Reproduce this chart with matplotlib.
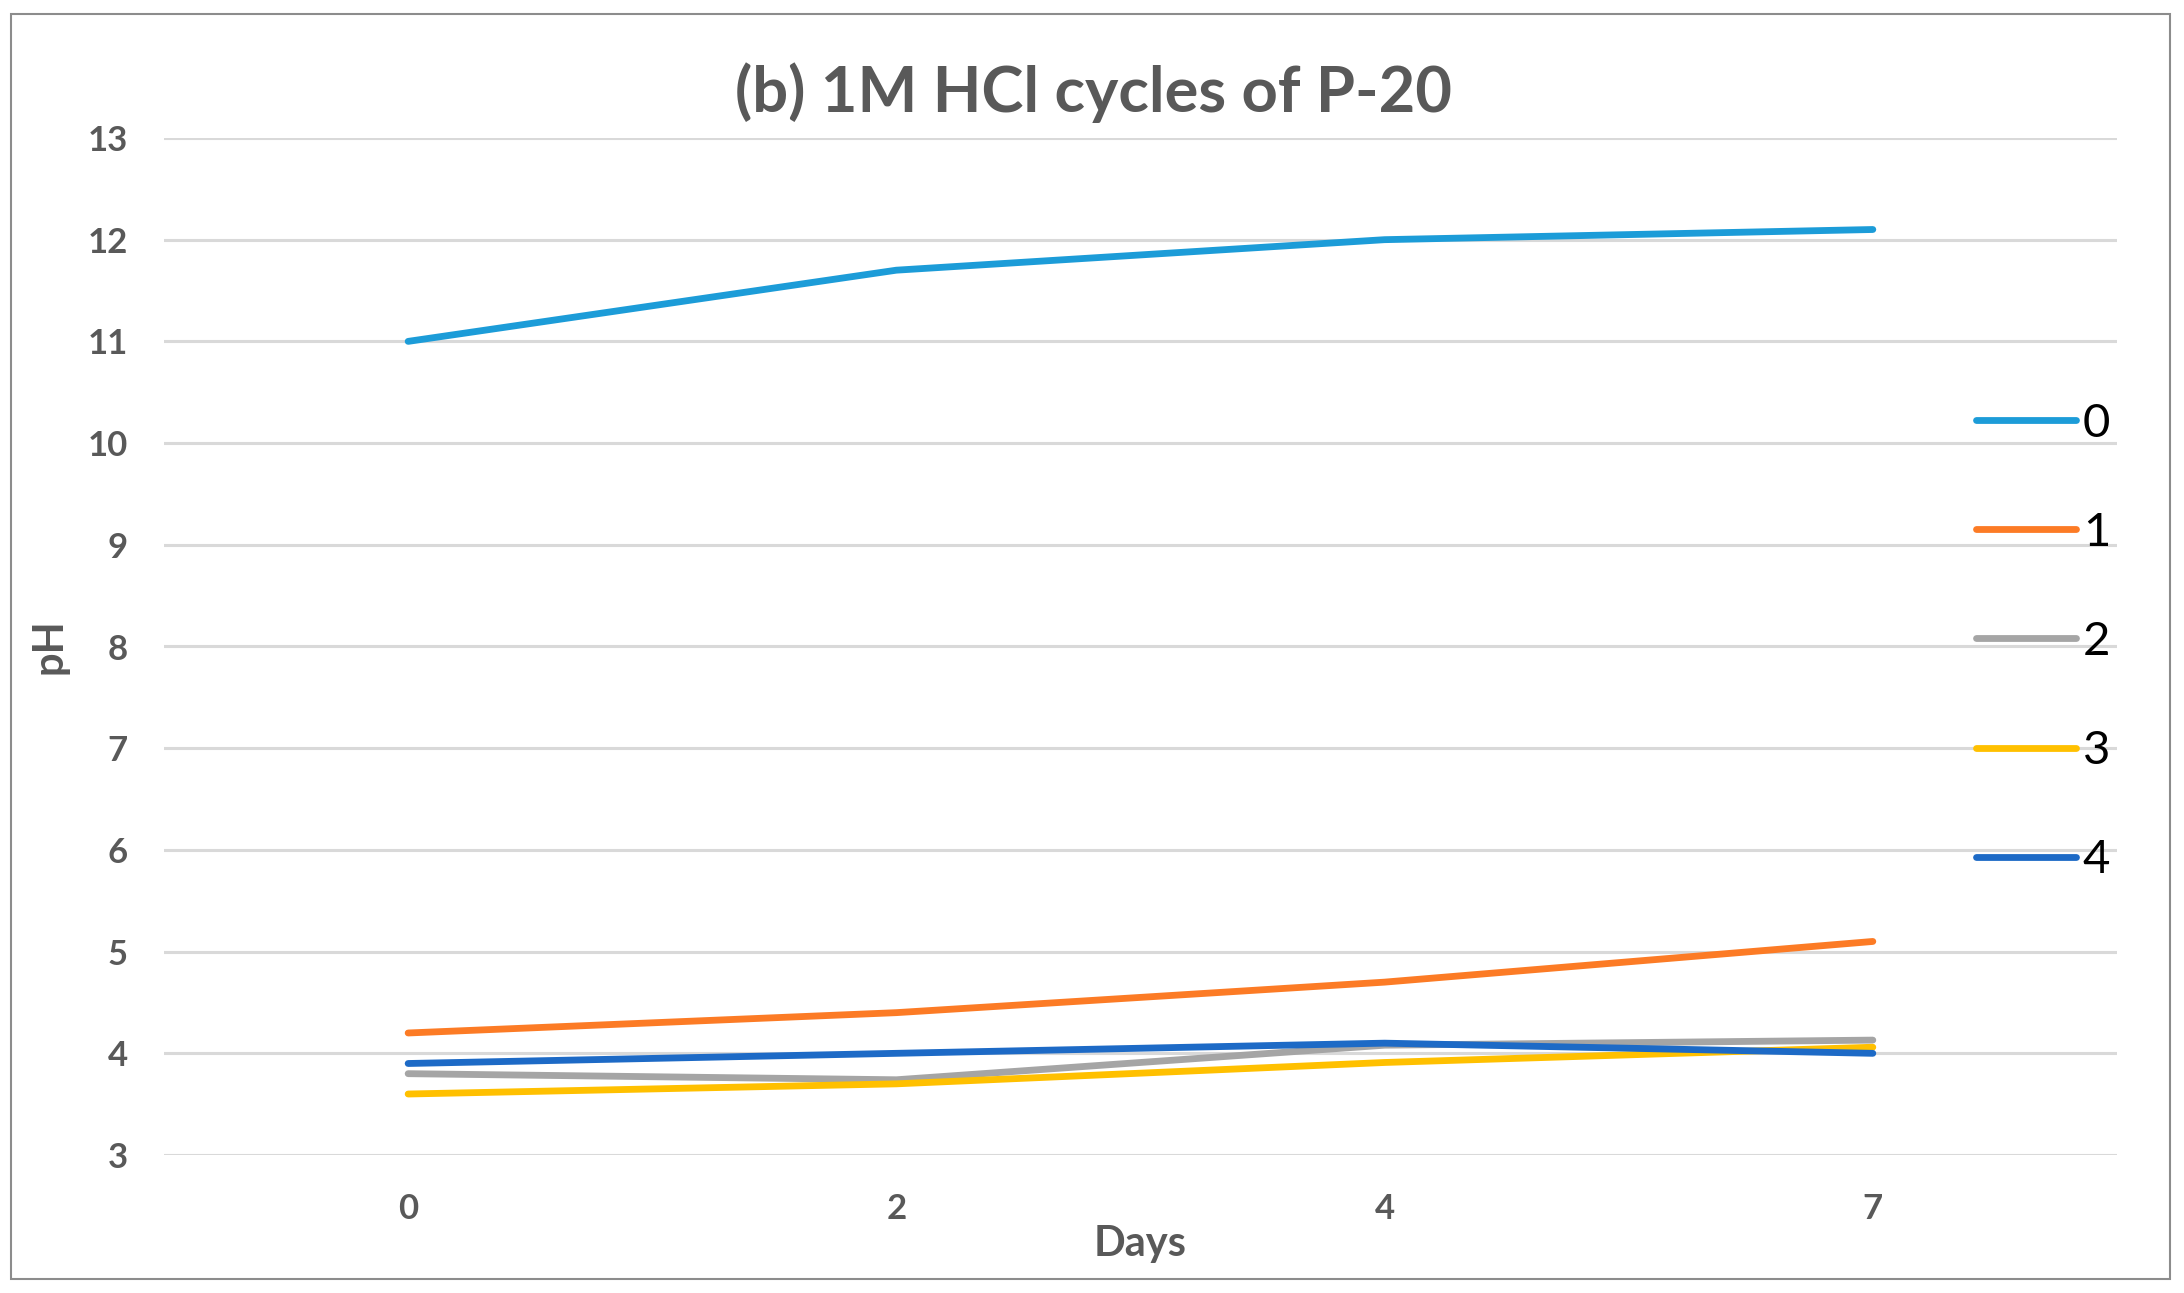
import numpy as np
import matplotlib
matplotlib.use('Agg')
import matplotlib.pyplot as plt
from matplotlib.patches import Rectangle

# data
days = ['0', '2', '4', '7']
cycles = ['0', '1', '2', '3', '4']
ph_0 = [11.0, 11.7, 12.0, 12.1]
ph_1 = [4.2, 4.4, 4.7, 5.1]
ph_2 = [3.8, 3.74, 4.08, 4.13]
ph_3 = [3.6, 3.7, 3.91, 4.06]
ph_4 = [3.9, 4.0, 4.1, 4.0]
yticks = [3, 4, 5, 6, 7, 8, 9, 10, 11, 12, 13]

series = [ph_0, ph_1, ph_2, ph_3, ph_4]
colors = ['#1C9CD8', '#FC7B25', '#A5A5A5', '#FFC000', '#1D6AC6']

plt.rcParams['font.family'] = ['Lato', 'DejaVu Sans']

fig = plt.figure(figsize=(21.84, 12.93), dpi=100)
ax = fig.add_axes([0.0751, 0.1067, 0.8942, 0.7866])

x = np.arange(len(days))
lines = []
for vals, c, name in zip(series, colors, cycles):
    ln, = ax.plot(x, vals, color=c, linewidth=4.9, label=name,
                  solid_capstyle='round', solid_joinstyle='round', zorder=3)
    lines.append(ln)

ax.set_xlim(-0.5, len(days) - 0.5)
ax.set_ylim(3, 13)
ax.set_xticks(x)
ax.set_xticklabels(days)
ax.set_yticks(yticks)
ax.grid(axis='y', color='#D9D9D9', linewidth=2.2, zorder=0)
ax.tick_params(length=0, labelsize=25, labelcolor='#595959')
ax.tick_params(axis='y', pad=26)
ax.tick_params(axis='x', pad=27)
for t in ax.get_xticklabels() + ax.get_yticklabels():
    t.set_fontweight('bold')
for spine in ['top', 'right', 'left', 'bottom']:
    ax.spines[spine].set_visible(False)

ax.set_xlabel('Days', fontsize=30, fontweight='bold', color='#595959', labelpad=0)
ax.set_ylabel('pH', fontsize=30, fontweight='bold', color='#595959', labelpad=14)

fig.text(0.5005, 0.928, '(b) 1M HCl cycles of P-20', ha='center', va='center',
         fontsize=45.5, fontweight='bold', color='#595959')

leg = fig.legend(handles=lines, loc='upper left', bbox_to_anchor=(0.8959, 0.703),
                 frameon=False, fontsize=34, handlelength=2.12, handletextpad=0.15,
                 labelspacing=1.42, borderaxespad=0)

# outer chart border
fig.patches.append(Rectangle((11 / 2184, 1 - 1279 / 1293), 2159 / 2184, 1265 / 1293,
                             transform=fig.transFigure, fill=False,
                             edgecolor='#8C8C8C', linewidth=1.5))

plt.savefig('out.png', dpi=100, facecolor='white')
